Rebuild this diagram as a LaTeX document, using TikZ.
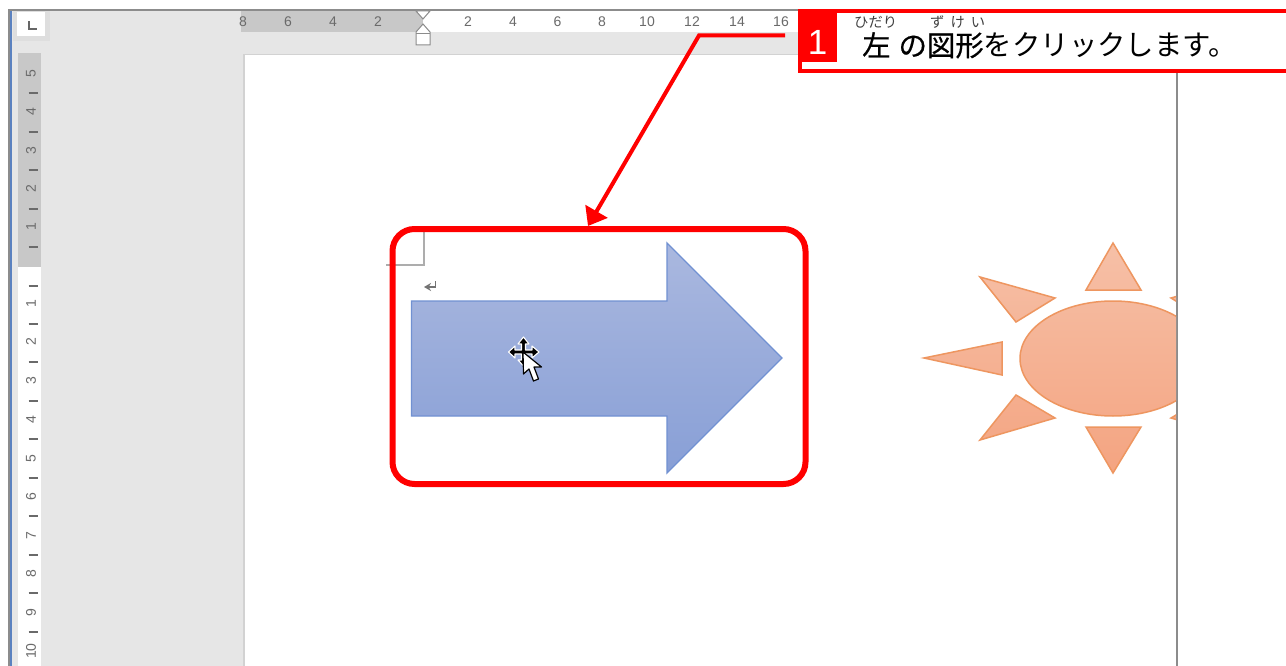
\documentclass[tikz,border=0pt]{standalone}
\usepackage{fontspec}
\setmainfont{Liberation Sans}
\newfontfamily\jp{Noto Sans CJK JP}
\newfontfamily\jpfat[FakeBold=0.5]{Noto Sans CJK JP}
\usetikzlibrary{arrows.meta}
\definecolor{bandgray}{HTML}{E6E6E6}
\definecolor{rulerdark}{HTML}{C8C8C8}
\definecolor{rulertxt}{HTML}{6A6A6A}
\definecolor{edgegray}{HTML}{8C8C8C}
\definecolor{pageedge}{HTML}{D2D2D2}
\definecolor{winblue}{HTML}{5B82C0}
\definecolor{callred}{HTML}{FF0000}
\definecolor{arrowtop}{HTML}{AAB8DF}
\definecolor{arrowbot}{HTML}{889FD6}
\definecolor{arrowline}{HTML}{7191D2}
\definecolor{suntop}{HTML}{F6C0A7}
\definecolor{sunbot}{HTML}{F4A481}
\definecolor{sunline}{HTML}{EE9660}
\tikzset{
  hnum/.style={font=\fontsize{14}{14}\selectfont, text=rulertxt, inner sep=0pt},
  vnum/.style={font=\fontsize{14}{14}\selectfont, text=rulertxt, inner sep=0pt, rotate=90},
  tickmark/.style={draw=rulertxt, line width=1.3pt},
  marker/.style={draw=edgegray, line width=1pt, fill=white},
  rubytext/.style={font=\jp\fontsize{14.3}{14}\selectfont, text=black!75, inner sep=0pt, anchor=base west},
  cursorpart/.style={fill=black, draw=white, line width=1.1pt, line join=round},
}
\begin{document}
\begin{tikzpicture}[x=1pt,y=-1pt]
\useasboundingbox (0,0) rectangle (1286,666);
\begin{scope}
\clip (0,0) rectangle (1286,666);
\fill[white] (0,0) rectangle (1286,666);
% window background
\fill[bandgray] (11,10) rectangle (1177,666);
\fill[pageedge] (243,54) rectangle (1177,666);
\fill[white] (244.5,55.5) rectangle (1176,666);
\draw[edgegray,line width=1.5pt] (8,10) -- (1177,10);
\draw[edgegray,line width=2pt] (9,10) -- (9,666);
\draw[winblue,line width=1.6pt] (11,11) -- (11,666);
\draw[edgegray,line width=2pt] (1177,55) -- (1177,666);
% top ruler
\fill[rulerdark] (241,11) rectangle (423,32);
\fill[white] (423,11) rectangle (800,32);
\foreach \px/\lab [count=\k] in {243/8,288/6,333/4,378/2,468/2,513/4,557.5/6,602/8,647/10,692/12,737/14,781/16}
  \node[hnum] (tn\k) at (\px,22) {\lab};
% corner box
\fill[black!13] (13,11) rectangle (50,41);
\fill[white] (17,12) rectangle (45,36);
\draw[black!60,line width=2.2pt] (29,21.5) -- (29,29) -- (37,29);
% left ruler
\fill[rulerdark] (18,53) rectangle (41,267);
\fill[white] (18,267) rectangle (41,666);
\foreach \py/\lab [count=\k] in {74/5,112/4,151/3,189/2,227/1,304/1,342/2,381/3,420/4,459/5,497/6,536/7,574/8,613/9,651/10}
  \node[vnum] (vn\k) at (31,\py) {\lab};
\foreach \py in {93,132,170,209,247,286,324,362,401,439,478,516,555,593,632}
  \draw[tickmark] (28.5,\py) -- (37.5,\py);
% indent markers
\draw[marker] (416,11) -- (430,11) -- (423,19) -- cycle;
\draw[marker] (423,24) -- (430,32) -- (430,45) -- (416,45) -- (416,32) -- cycle;
\draw[edgegray,line width=1pt] (416,33.5) -- (430,33.5);
% text boundary corner and paragraph mark
\draw[black!32,line width=1.2pt] (424,232) -- (424,265) -- (386,265);
\draw[black!55,line width=1.5pt,-{Stealth[length=7pt,width=8pt]}] (435.5,281) -- (435.5,287) -- (424,287);
% blue arrow shape
\path[draw=arrowline,line width=1.4pt,top color=arrowtop,bottom color=arrowbot,line join=miter]
  (411.5,301) -- (667,301) -- (667,243) -- (782,358) -- (667,473) -- (667,416) -- (411.5,416) -- cycle;
% sun shape
\begin{scope}
\clip (900,230) rectangle (1176,490);
\path[draw=sunline,line width=1.5pt,top color=suntop,bottom color=sunbot,line join=miter]
  (1113,243) -- (1141,290) -- (1086,290) -- cycle
  (980,277) -- (1055,298) -- (1016,322) -- cycle
  (924,358) -- (1002,342) -- (1002,375) -- cycle
  (1016,395) -- (1055,418) -- (980,440) -- cycle
  (1086,427) -- (1141,427) -- (1113,473) -- cycle
  (1246,277) -- (1171,298) -- (1210,322) -- cycle
  (1210,395) -- (1171,418) -- (1246,440) -- cycle
  (1113,358.5) ellipse [x radius=93, y radius=57.5];
\end{scope}
% mouse cursor: four-way arrows
\path[cursorpart]
  (523.5,337) -- (529,344) -- (525.5,344) -- (525.5,350) -- (532,350) -- (532,346) -- (539,352)
  -- (532,358) -- (532,354) -- (525.5,354) -- (525.5,360) -- (529,360) -- (523.5,366) -- (518,360)
  -- (521.5,360) -- (521.5,354) -- (515,354) -- (515,358) -- (508.5,352) -- (515,346) -- (515,350)
  -- (521.5,350) -- (521.5,344) -- (518,344) -- cycle;
% mouse cursor: pointer
\path[fill=white,draw=black,line width=1.2pt,line join=round]
  (523,352) -- (523.5,374) -- (529,369) -- (533.5,381) -- (538.5,379) -- (534,367) -- (541.5,367) -- cycle;
% red frame
\node[draw=callred,line width=6pt,rounded corners=22pt,minimum width=413pt,minimum height=255pt,inner sep=0pt,outer sep=0pt] (frame) at (599,356.5) {};
% callout
\node[draw=callred,fill=white,line width=4pt,minimum width=560pt,minimum height=60pt,inner sep=0pt,outer sep=0pt] (callout) at (1080,41.5) {};
\node[fill=callred,minimum width=39pt,minimum height=51pt,inner sep=0pt,outer sep=0pt] (numbox) at (817.5,36.5) {};
\node[text=white,inner sep=0pt,font=\fontsize{35}{35}\selectfont] (numone) at (817.5,42) {1};
\node[font=\jp\fontsize{28.4}{28}\selectfont,text=black,inner sep=0pt,anchor=base west] (msg) at (862,56)
  {{\jpfat 左\hspace{8pt}の図形}をクリックします。};
\node[rubytext] (rubya) at (854,28) {ひだり};
\node[rubytext] (rubyb) at (930,28) {ず\hspace{6pt}け\hspace{6pt}い};
% connector
\coordinate (bend) at (699,35.5);
\draw[callred,line width=4pt,line join=miter,-{Triangle[length=17pt,width=25pt]}]
  ([xshift=-15pt,yshift=6pt]callout.west) -- (bend) -- ([xshift=-11pt,yshift=3pt]frame.north);
\end{scope}
\end{tikzpicture}
\end{document}
